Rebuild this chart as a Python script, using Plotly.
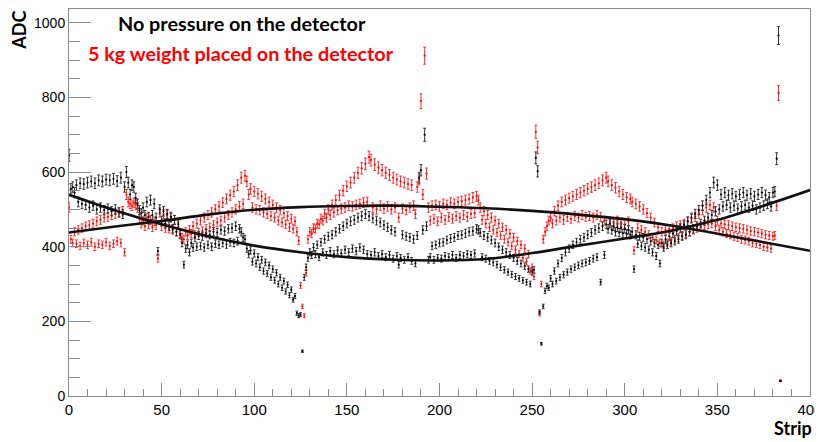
import plotly.graph_objects as go

# ---------------- data ----------------
strips = list(range(385))

# No pressure on the detector (black)
adc_free = [
    645, 555, 560, 545, 565, 520, 570, 515, 568, 512,
    572, 505, 575, 510, 570, 500, 578, 505, 575, 498,
    580, 502, 578, 495, 582, 500, 576, 492, 585, 488,
    560, 600, 572, 540, 565, 560, 530, 515, 498, 490,
    505, 485, 520, 480, 525, 485, 515, 478, 388, 500,
    470, 495, 462, 488, 455, 480, 448, 472, 440, 460,
    432, 410, 352, 395, 405, 385, 410, 398, 425, 400,
    430, 402, 428, 398, 435, 405, 432, 400, 440, 408,
    438, 405, 445, 410, 442, 406, 448, 412, 450, 410,
    455, 415, 448, 440, 425, 420, 395, 380, 390, 360,
    382, 355, 372, 345, 365, 335, 358, 328, 350, 318,
    340, 310, 330, 300, 318, 290, 308, 280, 298, 270,
    285, 258, 268, 222, 215, 218, 120, 318, 345, 370,
    385, 378, 398, 380, 405, 372, 412, 385, 420, 378,
    428, 388, 432, 380, 440, 390, 448, 382, 455, 392,
    462, 385, 468, 395, 472, 388, 478, 398, 482, 392,
    488, 380, 482, 378, 476, 385, 470, 375, 465, 380,
    458, 372, 452, 378, 445, 368, 440, 375, 352, 370,
    432, 365, 428, 372, 425, 362, 420, 355, 430, 585,
    605, 445, 700, 455, 365, 372, 402, 365, 405, 370,
    410, 368, 412, 375, 418, 372, 422, 378, 425, 370,
    430, 378, 432, 375, 436, 380, 440, 378, 442, 382,
    448, 445, 438, 372, 430, 368, 425, 362, 418, 358,
    410, 352, 400, 345, 392, 338, 385, 332, 378, 326,
    370, 320, 362, 315, 355, 310, 348, 305, 340, 300,
    332, 338, 638, 602, 225, 140, 240, 282, 295, 290,
    315, 300, 335, 308, 355, 318, 370, 325, 385, 332,
    395, 340, 405, 345, 412, 350, 420, 355, 425, 358,
    432, 362, 438, 368, 445, 372, 450, 305, 455, 378,
    460, 448, 462, 445, 455, 440, 452, 438, 450, 436,
    448, 435, 445, 432, 440, 340, 432, 408, 428, 402,
    425, 398, 420, 392, 415, 385, 410, 375, 405, 355,
    410, 398, 420, 405, 428, 410, 435, 415, 442, 420,
    450, 428, 458, 432, 468, 440, 478, 448, 488, 455,
    498, 462, 510, 470, 525, 478, 545, 485, 572, 495,
    565, 500, 540, 508, 545, 512, 538, 505, 542, 510,
    535, 502, 540, 508, 545, 512, 538, 505, 542, 510,
    535, 500, 540, 505, 545, 510, 538, 515, 532, 508,
    545, 548, 636, 966, 40,
]

# 5 kg weight placed on the detector (red)
adc_weight = [
    505, 420, 410, 440, 408, 445, 402, 450, 410, 455,
    405, 458, 412, 462, 400, 468, 408, 472, 405, 478,
    412, 480, 402, 485, 408, 488, 415, 492, 410, 495,
    385, 540, 520, 515, 510, 518, 512, 505, 475, 462,
    470, 455, 478, 460, 472, 452, 468, 458, 368, 492,
    455, 488, 450, 485, 448, 478, 445, 472, 440, 465,
    435, 425, 420, 440, 430, 445, 435, 455, 432, 462,
    438, 470, 442, 478, 448, 485, 452, 492, 458, 500,
    465, 508, 470, 518, 478, 528, 485, 538, 492, 548,
    500, 565, 508, 585, 515, 590, 575, 540, 555, 505,
    548, 500, 542, 498, 535, 492, 528, 488, 520, 482,
    512, 478, 505, 470, 498, 465, 490, 460, 482, 452,
    475, 448, 468, 440, 416, 296, 240, 215, 330, 420,
    440, 435, 450, 448, 462, 460, 475, 470, 488, 478,
    500, 485, 512, 492, 525, 498, 538, 502, 550, 505,
    562, 510, 572, 508, 585, 512, 598, 515, 610, 518,
    622, 520, 640, 632, 505, 620, 500, 612, 510, 605,
    502, 598, 508, 592, 500, 585, 505, 580, 478, 575,
    502, 572, 498, 568, 505, 565, 510, 488, 560, 580,
    790, 540, 912, 596, 505, 470, 510, 475, 512, 468,
    508, 478, 515, 472, 512, 480, 518, 475, 515, 482,
    520, 478, 522, 485, 525, 480, 528, 488, 532, 490,
    535, 525, 505, 472, 495, 462, 485, 452, 478, 445,
    470, 438, 462, 430, 452, 420, 445, 412, 435, 402,
    425, 392, 415, 380, 405, 370, 395, 360, 380, 335,
    345, 320, 708, 666, 220, 300, 420, 440, 455, 470,
    478, 462, 495, 470, 510, 478, 520, 472, 525, 480,
    530, 475, 535, 482, 540, 478, 545, 485, 550, 480,
    555, 482, 560, 478, 565, 485, 570, 480, 578, 470,
    585, 575, 468, 565, 462, 558, 470, 548, 465, 540,
    460, 532, 468, 528, 520, 390, 515, 450, 508, 445,
    500, 440, 490, 432, 478, 425, 465, 418, 452, 410,
    440, 405, 445, 410, 448, 415, 450, 420, 455, 425,
    458, 430, 462, 435, 468, 440, 475, 445, 480, 450,
    488, 455, 498, 458, 505, 460, 512, 462, 505, 455,
    470, 445, 462, 440, 460, 435, 458, 432, 455, 428,
    452, 425, 450, 420, 448, 418, 445, 415, 442, 410,
    440, 408, 438, 405, 435, 400, 432, 398, 430, 395,
    428, 430, 510, 812, 42,
]

# polynomial fit curves (sampled)
fit_strip = [0, 25, 50, 75, 100, 125, 150, 175, 200, 225, 250, 275, 300, 325, 350, 375, 400]
fit_free = [539, 497, 460, 428, 403, 385, 372, 365, 363, 367, 383, 403, 422, 443, 472, 510, 552]
fit_weight = [438, 454, 469, 486, 499, 506, 509, 510, 507, 503, 496, 486, 474, 457, 435, 412, 389]

label_free = "No pressure on the detector"
label_weight = "5 kg weight placed on the detector"

# ---------------- figure ----------------
fig = go.Figure()

def add_series(y, color, bar):
    fig.add_trace(go.Scatter(
        x=strips, y=y, mode="markers",
        marker=dict(color=color, size=2.2),
        error_y=dict(type="percent", value=2.5, color=bar, thickness=1, width=1.4),
        showlegend=False, hoverinfo="x+y",
    ))

add_series(adc_weight, "#ff0000", "#ff3030")
add_series(adc_free, "#000000", "#333333")

for fy in (fit_free, fit_weight):
    fig.add_trace(go.Scatter(
        x=fit_strip, y=fy, mode="lines",
        line=dict(color="#111111", width=2.6, shape="spline", smoothing=1.0),
        showlegend=False, hoverinfo="skip",
    ))

frame = "#8a8a8a"
ytickfont = dict(family="Liberation Sans, Arial, sans-serif", size=14, color="#000")
xtickfont = dict(family="Liberation Sans, Arial, sans-serif", size=15, color="#000")

# the page body adds an 8px margin, so the figure is sized to fill the rest
fig.update_layout(
    width=815, height=434,
    margin=dict(l=61, r=13, t=1, b=46, autoexpand=False),
    paper_bgcolor="white", plot_bgcolor="white",
    xaxis=dict(
        range=[0, 400], tickmode="linear", tick0=0, dtick=50, automargin=False,
        ticks="inside", ticklen=13, tickwidth=1, tickcolor=frame,
        minor=dict(dtick=10, ticks="inside", ticklen=7, tickcolor=frame, tickwidth=1),
        showgrid=False, zeroline=False,
        showline=True, linecolor=frame, linewidth=1, mirror=True,
        tickfont=xtickfont,
    ),
    yaxis=dict(
        range=[0, 1037], tickmode="linear", tick0=0, dtick=200, automargin=False,
        ticks="inside", ticklen=22, tickwidth=1, tickcolor=frame,
        minor=dict(dtick=50, ticks="inside", ticklen=11, tickcolor=frame, tickwidth=1),
        showgrid=False, zeroline=False,
        showline=True, linecolor=frame, linewidth=1, mirror=True,
        tickfont=ytickfont,
    ),
    annotations=[
        dict(text="<b>" + label_free + "</b>", xref="paper", yref="paper",
             x=0.064, y=0.964, xanchor="left", yanchor="middle", showarrow=False,
             font=dict(family="Lato, Open Sans, sans-serif", size=19.8, color="#000")),
        dict(text="<b>" + label_weight + "</b>", xref="paper", yref="paper",
             x=0.0235, y=0.887, xanchor="left", yanchor="middle", showarrow=False,
             font=dict(family="Lato, Open Sans, sans-serif", size=19.8, color="#ff0000")),
        dict(text="<b>ADC</b>", xref="paper", yref="paper",
             x=-0.067, y=0.945, xanchor="center", yanchor="middle", showarrow=False,
             textangle=-90,
             font=dict(family="Lato, Open Sans, sans-serif", size=18, color="#000")),
        dict(text="<b>Strip</b>", xref="paper", yref="paper",
             x=0.977, y=-0.0825, xanchor="center", yanchor="middle", showarrow=False,
             font=dict(family="Lato, Open Sans, sans-serif", size=18, color="#000")),
    ],
)

fig.write_html("out.html")
